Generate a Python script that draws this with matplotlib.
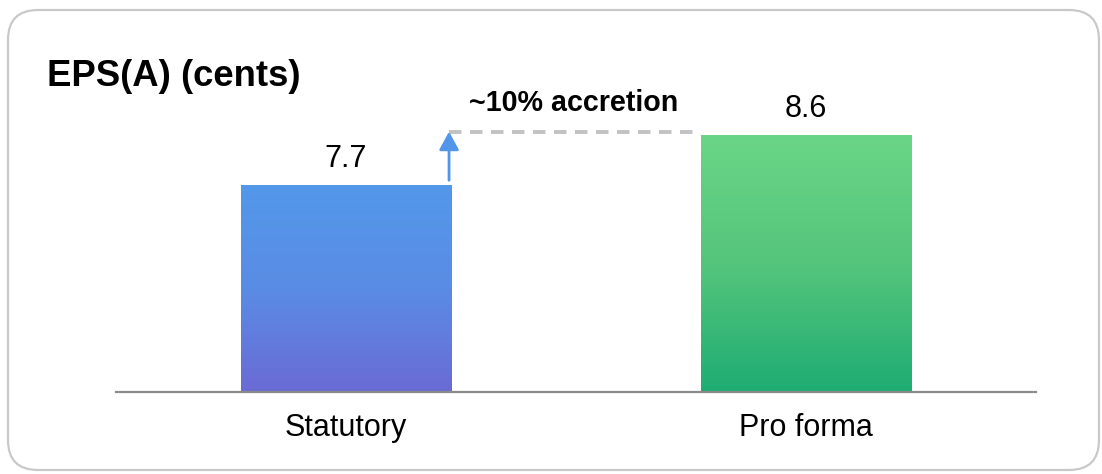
import numpy as np
import matplotlib
matplotlib.use("Agg")
import matplotlib.pyplot as plt
from matplotlib.patches import FancyBboxPatch, FancyArrowPatch
from matplotlib.transforms import IdentityTransform
from matplotlib.colors import to_rgb

categories = ["Statutory", "Pro forma"]
eps_values = [7.7, 8.6]
value_labels = ["7.7", "8.6"]
title_text = "EPS(A) (cents)"
accretion_text = "~10% accretion"

plt.rcParams["font.family"] = ["Liberation Sans", "DejaVu Sans"]

W, H, DPI = 1102, 474, 100
fig = plt.figure(figsize=(W / DPI, H / DPI), dpi=DPI)

# rounded frame around the whole card, in pixel units
frame = FancyBboxPatch((8, 4), 1091, 460, boxstyle="round,pad=0,rounding_size=30",
                       transform=IdentityTransform(), facecolor="none",
                       edgecolor="#c9c9c9", linewidth=1.6, zorder=-1)
fig.patches.append(frame)

ax = fig.add_axes([116 / W, 82 / H, 920 / W, 335.2 / H])
ax.set_facecolor("none")

bar_w = 0.458
x = np.arange(len(categories))
bars = ax.bar(x, eps_values, width=bar_w, bottom=0, color="none", zorder=2)

gradients = [("#5398ea", "#5a8ce4", "#6a6bd5"), ("#6ad586", "#55c57c", "#1eac73")]


def vertical_gradient(top, mid, bottom, n=256):
    top, mid, bottom = map(np.array, (to_rgb(top), to_rgb(mid), to_rgb(bottom)))
    t = np.linspace(0, 1, n)[:, None]  # 0 = bottom, 1 = top
    low = bottom + (mid - bottom) * np.clip(t / 0.5, 0, 1)
    high = mid + (top - mid) * np.clip((t - 0.5) / 0.5, 0, 1)
    cols = np.where(t < 0.5, low, high)
    return cols[:, None, :]


ymin = 4
for rect, (c_top, c_mid, c_bot) in zip(bars, gradients):
    x0 = rect.get_x()
    x1 = x0 + rect.get_width()
    y1 = rect.get_height()
    ax.imshow(vertical_gradient(c_top, c_mid, c_bot), extent=[x0, x1, ymin, y1],
              origin="lower", aspect="auto", interpolation="bilinear", zorder=2)

ax.set_xlim(-0.5, 1.5)
ax.set_ylim(ymin, 10)

for xi, val, lab in zip(x, eps_values, value_labels):
    ax.annotate(lab, (xi, val), xytext=(0, 13), textcoords="offset points",
                ha="center", va="baseline", fontsize=22, color="black")

# accretion guide: dashed level line and up arrow
dash_y = eps_values[1] + 0.06
x_start = x[0] + bar_w / 2 - 0.005
x_end = x[1] - bar_w / 2 - 0.007
ax.plot([x_start, x_end], [dash_y, dash_y], color="#c2c2c2", lw=2.8,
        dashes=(3.2, 2.2), solid_capstyle="butt", zorder=3)
arrow = FancyArrowPatch((x_start, eps_values[0] + 0.09), (x_start, dash_y),
                        arrowstyle="-|>,head_length=0.55,head_width=0.3",
                        mutation_scale=20, color="#5296ea", lw=2.0,
                        shrinkA=0, shrinkB=0, zorder=4)
ax.add_patch(arrow)
ax.annotate(accretion_text, ((x_start + x_end) / 2, dash_y), xytext=(0, 15),
            textcoords="offset points", ha="center", va="baseline",
            fontsize=20.6, fontweight="bold", color="black")

ax.set_xticks(x)
ax.set_xticklabels(categories, fontsize=22, color="black")
ax.tick_params(axis="x", length=0, pad=15)
ax.set_yticks([])
for side in ("top", "left", "right"):
    ax.spines[side].set_visible(False)
ax.spines["bottom"].set_color("#8a8a8a")
ax.spines["bottom"].set_linewidth(1.6)

fig.text(47 / W, 1 - 86 / H, title_text, ha="left", va="baseline",
         fontsize=26.3, fontweight="bold", color="black")

fig.savefig("out.png", dpi=DPI)
